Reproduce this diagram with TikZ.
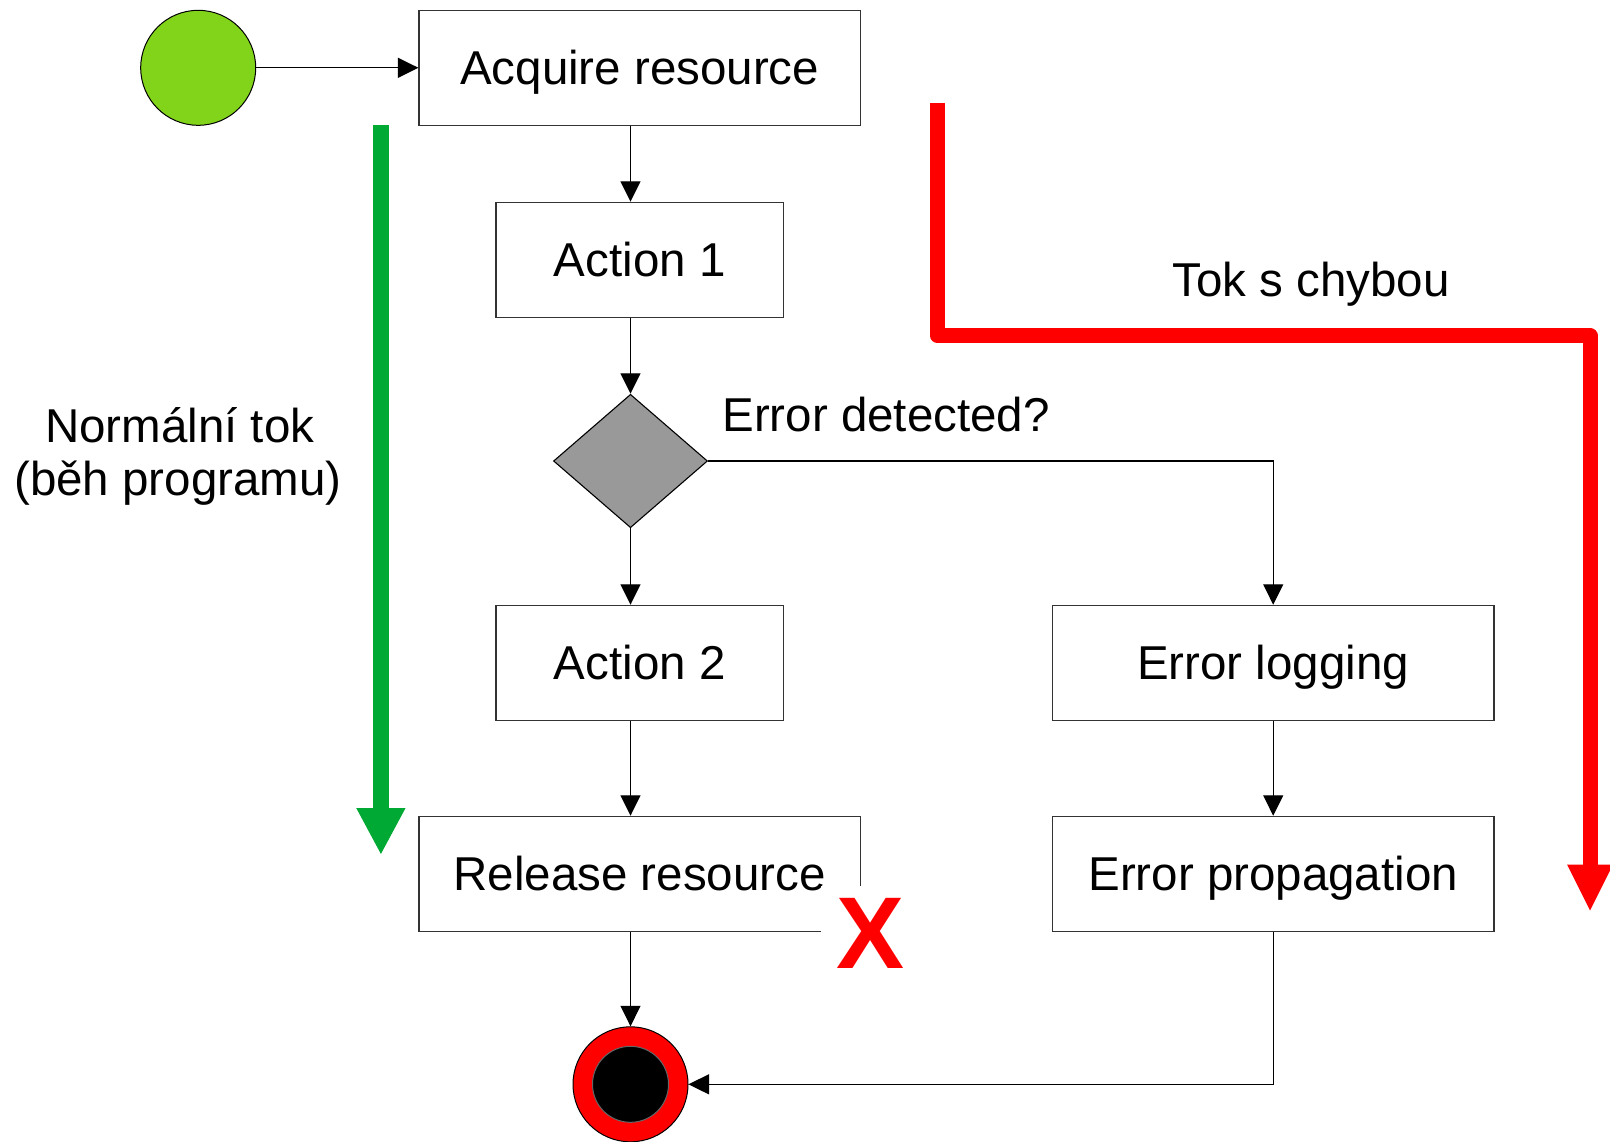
\documentclass[tikz,border=0pt]{standalone}
\usepackage{fontspec}
\setmainfont{Liberation Sans}
\usetikzlibrary{arrows.meta,shapes.geometric}
\definecolor{startgreen}{HTML}{81D41A}
\definecolor{flowgreen}{HTML}{00A933}
\definecolor{flowred}{HTML}{FF0000}
\definecolor{decgray}{HTML}{999999}
\tikzset{
  lbl/.style={font=\fontsize{23.75}{27}\selectfont, text height=17pt, text depth=0pt, inner sep=0pt},
  box/.style={draw=black!80, line width=0.55pt, fill=white, rectangle, inner sep=0pt,
              minimum height=57.5pt, lbl},
  wide/.style={box, minimum width=220.75pt},
  narrow/.style={box, minimum width=143.75pt},
  conn/.style={draw=black, line width=0.65pt, -{Triangle[length=10.25pt,width=10pt]}},
}
\begin{document}
\begin{tikzpicture}[x=0.5pt,y=-0.5pt]
  \useasboundingbox (0,0) rectangle (1610,1141);

  % start and end states
  \node[circle, draw=black, line width=0.5pt, fill=startgreen, minimum size=57.5pt, inner sep=0pt] (start) at (198.2,67.8) {};
  \node[circle, draw=black, line width=0.5pt, fill=flowred, minimum size=57.5pt, inner sep=0pt] (end) at (630.5,1084.3) {};
  \node[circle, draw=black!60, line width=0.5pt, fill=black, minimum size=38pt, inner sep=0pt] (endcore) at (end.center) {};

  % activities
  \node[wide]   (acq)  at (639.7,67.8)   {Acquire resource};
  \node[narrow] (act1) at (639.7,259.8)  {Action 1};
  \node[diamond, draw=black, line width=0.55pt, fill=decgray, minimum width=77pt, minimum height=66.7pt, inner sep=0pt] (dec) at (630.5,461) {};
  \node[narrow] (act2) at (639.7,662.8)  {Action 2};
  \node[wide]   (rel)  at (639.7,873.8)  {Release resource};
  \node[wide]   (log)  at (1273.2,662.8) {Error logging};
  \node[wide]   (prop) at (1273.2,873.8) {Error propagation};

  % labels
  \node[lbl, anchor=west] (errq) at (722,414) {Error detected?};
  \node[lbl] (tok) at (1311,279) {Tok s chybou};
  \node[lbl] (norm1) at (179.7,425) {Normální tok};
  \node[lbl] (norm2) at (178,478) {(běh programu)};

  % connectors
  \draw[conn] (start) -- (acq);
  \draw[conn] (acq.south -| dec.north) -- (act1.north -| dec.north);
  \draw[conn] (act1.south -| dec.north) -- (dec.north);
  \draw[conn] (dec.south) -- (act2.north -| dec.south);
  \draw[conn] (dec.east) -| (log.north);
  \draw[conn] (act2.south -| dec.south) -- (rel.north -| dec.south);
  \draw[conn] (log) -- (prop);
  \draw[conn] (rel.south -| end.north) -- (end.north);
  \draw[conn] (prop.south) |- (end.east);

  % cross over the release box corner
  \node[fill=white, text=flowred, font=\fontsize{51}{51}\selectfont\bfseries,
        text height=36.5pt, text depth=0pt, inner xsep=7.5pt, inner ysep=4.5pt] (cross) at (870.5,931.5) {X};

  % flow arrows
  \coordinate (gtop) at (380.9,125);
  \coordinate (gtip) at (380.9,855);
  \draw[flowgreen, line width=8.35pt, -{Triangle[length=23.5pt,width=22.8pt]}] (gtop) -- (gtip);

  \coordinate (rtop) at (937.5,102.7);
  \coordinate (rbend) at (937.5,335.8);
  \coordinate (rcorner) at (1590,335.8);
  \coordinate (rtip) at (1590,911.8);
  \draw[flowred, line width=7.5pt, line join=round, -{Triangle[length=23.6pt,width=21pt]}]
    (rtop) -- (rbend) -- (rcorner) -- (rtip);
\end{tikzpicture}
\end{document}
